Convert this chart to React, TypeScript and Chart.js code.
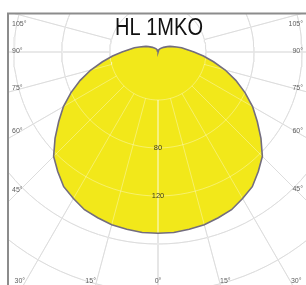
import React, { useEffect, useRef } from 'react';
import { Chart, registerables } from 'chart.js';

Chart.register(...registerables);

// ---- data ----
const TITLE = 'HL 1MKO';
// luminous intensity (one half, symmetric), angle measured from straight down
const CURVE_ANGLES = [0, 5, 10, 15, 20, 25, 30, 35, 40, 45, 50, 55, 60, 65, 70, 75, 80, 85, 90, 95, 100, 105, 110, 115, 120, 130, 140, 150, 160, 170, 180];
const CURVE_INTENSITY = [151, 151, 150, 149, 147, 145, 141, 137, 130, 123, 112, 101, 91, 80, 69, 58, 47, 38, 30, 24, 20, 16, 13, 11, 9, 6, 4, 3, 2, 1, 0];
const RING_VALUES = [40, 80, 120, 160, 200, 240];
const RING_LABELS = [80, 120];
const RAY_ANGLES = [-105, -90, -75, -60, -45, -30, -15, 0, 15, 30, 45, 60, 75, 90, 105];
const RAY_START = 40;
const SIDE_LABEL_ANGLES = [105, 90, 75, 60, 45];
const BOTTOM_LABEL_ANGLES = [-30, -15, 0, 15, 30];

// ---- layout constants ----
const W = 306;
const H = 285;
const PAD_LEFT = 9;
const PAD_TOP = 14;
const AREA_W = W - PAD_LEFT;
const AREA_H = H - PAD_TOP;
const CENTER_X = 149; // px inside chart area
const CENTER_Y = 38;
const PPU = 1.2; // px per intensity unit

const polar = (deg: number, r: number) => {
  const a = (deg * Math.PI) / 180;
  return { x: r * Math.sin(a), y: -r * Math.cos(a) };
};

const buildCurve = () => {
  const pts: { x: number; y: number }[] = [];
  for (let i = CURVE_ANGLES.length - 1; i >= 0; i--) pts.push(polar(-CURVE_ANGLES[i], CURVE_INTENSITY[i]));
  for (let i = 1; i < CURVE_ANGLES.length; i++) pts.push(polar(CURVE_ANGLES[i], CURVE_INTENSITY[i]));
  return pts;
};

const ringPoints = (r: number) => {
  const pts: { x: number; y: number }[] = [];
  for (let d = 0; d <= 360; d += 3) pts.push(polar(d, r));
  return pts;
};

const rayPoints = (deg: number) => [polar(deg, RAY_START), polar(deg, 320)];

const gridDatasets = (color: string, order: number) => {
  const ds: any[] = [];
  RING_VALUES.forEach((r) =>
    ds.push({ data: ringPoints(r), showLine: true, borderColor: color, borderWidth: 1, pointRadius: 0, fill: false, order })
  );
  RAY_ANGLES.forEach((a) =>
    ds.push({ data: rayPoints(a), showLine: true, borderColor: color, borderWidth: 1, pointRadius: 0, fill: false, order })
  );
  return ds;
};

const decorPlugin = {
  id: 'decor',
  afterDraw(chart: any) {
    const { ctx, chartArea, scales } = chart;
    const cx = scales.x.getPixelForValue(0);
    const cy = scales.y.getPixelForValue(0);
    ctx.save();

    // ring labels
    ctx.fillStyle = '#3d3a1e';
    ctx.font = '7.5px "Liberation Sans", Arial, sans-serif';
    ctx.textAlign = 'center';
    ctx.textBaseline = 'middle';
    RING_LABELS.forEach((v) => {
      ctx.fillText(String(v), cx, scales.y.getPixelForValue(-v));
    });

    // side angle labels
    ctx.fillStyle = '#5e5e5e';
    ctx.font = '7px "Liberation Sans", Arial, sans-serif';
    SIDE_LABEL_ANGLES.forEach((a) => {
      const rad = (a * Math.PI) / 180;
      const dxL = cx - chartArea.left - 10;
      let yL = cy + (dxL * Math.cos(rad)) / Math.sin(rad) - 1;
      yL = Math.max(yL, chartArea.top + 10);
      ctx.textAlign = 'left';
      ctx.fillText(a + '°', chartArea.left + 3, yL);
      const dxR = chartArea.right - 10 - cx;
      let yR = cy + (dxR * Math.cos(rad)) / Math.sin(rad) - 1;
      yR = Math.max(yR, chartArea.top + 10);
      ctx.textAlign = 'right';
      ctx.fillText(a + '°', chartArea.right - 3, yR);
    });

    // bottom angle labels
    ctx.textAlign = 'center';
    const yB = chartArea.bottom - 4;
    BOTTOM_LABEL_ANGLES.forEach((a) => {
      const rad = (a * Math.PI) / 180;
      const x = cx + Math.tan(rad) * (yB - cy) + Math.sign(a) * 6;
      ctx.fillText(Math.abs(a) + '°', x, yB);
    });

    // title
    ctx.fillStyle = '#111111';
    ctx.font = '23px "Liberation Sans", Arial, sans-serif';
    ctx.textAlign = 'center';
    ctx.textBaseline = 'alphabetic';
    const tw = ctx.measureText(TITLE).width;
    const sx = 88 / tw;
    ctx.translate(cx + 1, 35);
    ctx.scale(sx, 1);
    ctx.fillText(TITLE, 0, 0);
    ctx.restore();

    // frame (left + top)
    ctx.save();
    ctx.strokeStyle = '#8c8c8c';
    ctx.lineWidth = 2;
    ctx.beginPath();
    ctx.moveTo(8, H);
    ctx.lineTo(8, 13.5);
    ctx.lineTo(W, 13.5);
    ctx.stroke();
    ctx.restore();
  },
};

export default function App() {
  const ref = useRef<HTMLCanvasElement | null>(null);

  useEffect(() => {
    if (!ref.current) return;
    const curve = buildCurve();
    const datasets: any[] = [
      ...gridDatasets('#cbcbcb', 4),
      {
        data: curve,
        showLine: true,
        borderWidth: 0,
        borderColor: 'rgba(0,0,0,0)',
        backgroundColor: '#f2e81a',
        fill: 'shape',
        pointRadius: 0,
        order: 3,
      },
      ...gridDatasets('rgba(255,255,255,0.35)', 2),
      {
        data: curve,
        showLine: true,
        borderWidth: 1.6,
        borderColor: '#736d7e',
        fill: false,
        pointRadius: 0,
        order: 1,
      },
    ];

    const chart = new Chart(ref.current, {
      type: 'scatter',
      data: { datasets },
      options: {
        animation: false,
        responsive: false,
        devicePixelRatio: 1,
        events: [],
        layout: { padding: { left: PAD_LEFT, top: PAD_TOP, right: 0, bottom: 0 } },
        elements: { line: { tension: 0 }, point: { radius: 0 } },
        scales: {
          x: { type: 'linear', display: false, min: -CENTER_X / PPU, max: (AREA_W - CENTER_X) / PPU },
          y: { type: 'linear', display: false, min: -(AREA_H - CENTER_Y) / PPU, max: CENTER_Y / PPU },
        },
        plugins: { legend: { display: false }, tooltip: { enabled: false }, title: { display: false } },
      },
      plugins: [decorPlugin],
    } as any);
    return () => chart.destroy();
  }, []);

  return (
    <div style={{ position: 'fixed', left: 0, top: 0, width: W, height: H, background: '#ffffff' }}>
      <canvas ref={ref} width={W} height={H} style={{ display: 'block', width: W, height: H }} />
    </div>
  );
}
